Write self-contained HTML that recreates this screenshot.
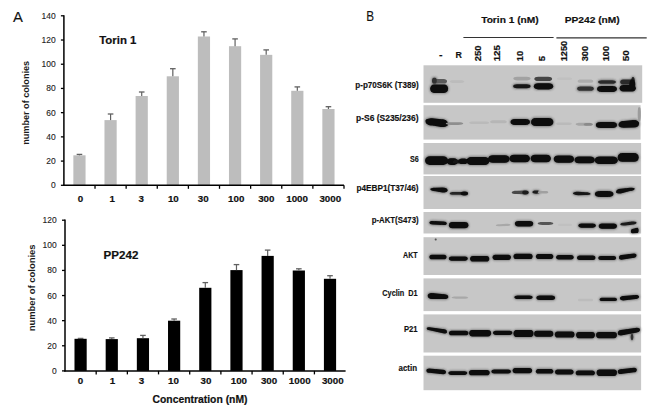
<!DOCTYPE html>
<html><head><meta charset="utf-8"><style>
html,body{margin:0;padding:0;background:#fff;width:650px;height:412px;overflow:hidden}
svg{display:block;font-family:"Liberation Sans", sans-serif}
</style></head><body>
<svg width="650" height="412" viewBox="0 0 650 412">
<defs><filter id="bl" x="-10%" y="-50%" width="120%" height="200%"><feGaussianBlur stdDeviation="0.7"/></filter><filter id="bl2" x="-10%" y="-50%" width="120%" height="200%"><feGaussianBlur stdDeviation="1.3"/></filter></defs>
<rect width="650" height="412" fill="#fff"/>
<text x="13.00" y="21.70" font-size="15.2" style="" text-anchor="start" fill="#111" stroke="#111" stroke-width="0.12" textLength="9.90" lengthAdjust="spacingAndGlyphs">A</text>
<rect x="73.36" y="155.30" width="12.20" height="30.00" fill="#bdbdbd"/>
<line x1="79.46" y1="155.30" x2="79.46" y2="154.40" stroke="#606060" stroke-width="1.2"/>
<line x1="76.66" y1="154.40" x2="82.26" y2="154.40" stroke="#606060" stroke-width="1.3"/>
<rect x="104.48" y="120.10" width="12.20" height="65.20" fill="#bdbdbd"/>
<line x1="110.58" y1="120.10" x2="110.58" y2="114.00" stroke="#606060" stroke-width="1.2"/>
<line x1="107.78" y1="114.00" x2="113.38" y2="114.00" stroke="#606060" stroke-width="1.3"/>
<rect x="135.61" y="96.00" width="12.20" height="89.30" fill="#bdbdbd"/>
<line x1="141.71" y1="96.00" x2="141.71" y2="92.00" stroke="#606060" stroke-width="1.2"/>
<line x1="138.91" y1="92.00" x2="144.51" y2="92.00" stroke="#606060" stroke-width="1.3"/>
<rect x="166.73" y="76.30" width="12.20" height="109.00" fill="#bdbdbd"/>
<line x1="172.83" y1="76.30" x2="172.83" y2="68.70" stroke="#606060" stroke-width="1.2"/>
<line x1="170.03" y1="68.70" x2="175.63" y2="68.70" stroke="#606060" stroke-width="1.3"/>
<rect x="197.85" y="36.50" width="12.20" height="148.80" fill="#bdbdbd"/>
<line x1="203.95" y1="36.50" x2="203.95" y2="31.80" stroke="#606060" stroke-width="1.2"/>
<line x1="201.15" y1="31.80" x2="206.75" y2="31.80" stroke="#606060" stroke-width="1.3"/>
<rect x="228.97" y="46.20" width="12.20" height="139.10" fill="#bdbdbd"/>
<line x1="235.07" y1="46.20" x2="235.07" y2="38.90" stroke="#606060" stroke-width="1.2"/>
<line x1="232.27" y1="38.90" x2="237.87" y2="38.90" stroke="#606060" stroke-width="1.3"/>
<rect x="260.09" y="54.85" width="12.20" height="130.45" fill="#bdbdbd"/>
<line x1="266.19" y1="54.85" x2="266.19" y2="49.90" stroke="#606060" stroke-width="1.2"/>
<line x1="263.39" y1="49.90" x2="268.99" y2="49.90" stroke="#606060" stroke-width="1.3"/>
<rect x="291.22" y="90.80" width="12.20" height="94.50" fill="#bdbdbd"/>
<line x1="297.32" y1="90.80" x2="297.32" y2="86.90" stroke="#606060" stroke-width="1.2"/>
<line x1="294.52" y1="86.90" x2="300.12" y2="86.90" stroke="#606060" stroke-width="1.3"/>
<rect x="322.34" y="109.00" width="12.20" height="76.30" fill="#bdbdbd"/>
<line x1="328.44" y1="109.00" x2="328.44" y2="106.70" stroke="#606060" stroke-width="1.2"/>
<line x1="325.64" y1="106.70" x2="331.24" y2="106.70" stroke="#606060" stroke-width="1.3"/>
<line x1="63.90" y1="15.20" x2="63.90" y2="186.00" stroke="#000" stroke-width="1.5"/>
<line x1="63.20" y1="185.30" x2="344.00" y2="185.30" stroke="#000" stroke-width="1.5"/>
<line x1="60.90" y1="185.30" x2="63.90" y2="185.30" stroke="#000" stroke-width="1.3"/>
<text x="55.60" y="188.30" font-size="8.9" style="" text-anchor="end" fill="#222" stroke="#222" stroke-width="0.12" textLength="4.70" lengthAdjust="spacingAndGlyphs">0</text>
<line x1="60.90" y1="161.09" x2="63.90" y2="161.09" stroke="#000" stroke-width="1.3"/>
<text x="55.60" y="164.09" font-size="8.9" style="" text-anchor="end" fill="#222" stroke="#222" stroke-width="0.12" textLength="9.40" lengthAdjust="spacingAndGlyphs">20</text>
<line x1="60.90" y1="136.87" x2="63.90" y2="136.87" stroke="#000" stroke-width="1.3"/>
<text x="55.60" y="139.87" font-size="8.9" style="" text-anchor="end" fill="#222" stroke="#222" stroke-width="0.12" textLength="9.40" lengthAdjust="spacingAndGlyphs">40</text>
<line x1="60.90" y1="112.66" x2="63.90" y2="112.66" stroke="#000" stroke-width="1.3"/>
<text x="55.60" y="115.66" font-size="8.9" style="" text-anchor="end" fill="#222" stroke="#222" stroke-width="0.12" textLength="9.40" lengthAdjust="spacingAndGlyphs">60</text>
<line x1="60.90" y1="88.44" x2="63.90" y2="88.44" stroke="#000" stroke-width="1.3"/>
<text x="55.60" y="91.44" font-size="8.9" style="" text-anchor="end" fill="#222" stroke="#222" stroke-width="0.12" textLength="9.40" lengthAdjust="spacingAndGlyphs">80</text>
<line x1="60.90" y1="64.23" x2="63.90" y2="64.23" stroke="#000" stroke-width="1.3"/>
<text x="55.60" y="67.23" font-size="8.9" style="" text-anchor="end" fill="#222" stroke="#222" stroke-width="0.12" textLength="14.10" lengthAdjust="spacingAndGlyphs">100</text>
<line x1="60.90" y1="40.01" x2="63.90" y2="40.01" stroke="#000" stroke-width="1.3"/>
<text x="55.60" y="43.01" font-size="8.9" style="" text-anchor="end" fill="#222" stroke="#222" stroke-width="0.12" textLength="14.10" lengthAdjust="spacingAndGlyphs">120</text>
<line x1="60.90" y1="15.80" x2="63.90" y2="15.80" stroke="#000" stroke-width="1.3"/>
<text x="55.60" y="18.80" font-size="8.9" style="" text-anchor="end" fill="#222" stroke="#222" stroke-width="0.12" textLength="14.10" lengthAdjust="spacingAndGlyphs">140</text>
<line x1="95.02" y1="185.30" x2="95.02" y2="188.80" stroke="#000" stroke-width="1.3"/>
<line x1="126.14" y1="185.30" x2="126.14" y2="188.80" stroke="#000" stroke-width="1.3"/>
<line x1="157.27" y1="185.30" x2="157.27" y2="188.80" stroke="#000" stroke-width="1.3"/>
<line x1="188.39" y1="185.30" x2="188.39" y2="188.80" stroke="#000" stroke-width="1.3"/>
<line x1="219.51" y1="185.30" x2="219.51" y2="188.80" stroke="#000" stroke-width="1.3"/>
<line x1="250.63" y1="185.30" x2="250.63" y2="188.80" stroke="#000" stroke-width="1.3"/>
<line x1="281.76" y1="185.30" x2="281.76" y2="188.80" stroke="#000" stroke-width="1.3"/>
<line x1="312.88" y1="185.30" x2="312.88" y2="188.80" stroke="#000" stroke-width="1.3"/>
<line x1="344.00" y1="185.30" x2="344.00" y2="188.80" stroke="#000" stroke-width="1.3"/>
<text x="80.55" y="201.80" font-size="9.0" style="font-weight:bold;" text-anchor="middle" fill="#111" stroke="#111" stroke-width="0.16" textLength="5.45" lengthAdjust="spacingAndGlyphs">0</text>
<text x="112.30" y="201.80" font-size="9.0" style="font-weight:bold;" text-anchor="middle" fill="#111" stroke="#111" stroke-width="0.16" textLength="5.45" lengthAdjust="spacingAndGlyphs">1</text>
<text x="141.25" y="201.80" font-size="9.0" style="font-weight:bold;" text-anchor="middle" fill="#111" stroke="#111" stroke-width="0.16" textLength="5.45" lengthAdjust="spacingAndGlyphs">3</text>
<text x="173.35" y="201.80" font-size="9.0" style="font-weight:bold;" text-anchor="middle" fill="#111" stroke="#111" stroke-width="0.16" textLength="10.90" lengthAdjust="spacingAndGlyphs">10</text>
<text x="203.30" y="201.80" font-size="9.0" style="font-weight:bold;" text-anchor="middle" fill="#111" stroke="#111" stroke-width="0.16" textLength="10.90" lengthAdjust="spacingAndGlyphs">30</text>
<text x="236.20" y="201.80" font-size="9.0" style="font-weight:bold;" text-anchor="middle" fill="#111" stroke="#111" stroke-width="0.16" textLength="16.35" lengthAdjust="spacingAndGlyphs">100</text>
<text x="266.30" y="201.80" font-size="9.0" style="font-weight:bold;" text-anchor="middle" fill="#111" stroke="#111" stroke-width="0.16" textLength="16.35" lengthAdjust="spacingAndGlyphs">300</text>
<text x="297.10" y="201.80" font-size="9.0" style="font-weight:bold;" text-anchor="middle" fill="#111" stroke="#111" stroke-width="0.16" textLength="21.80" lengthAdjust="spacingAndGlyphs">1000</text>
<text x="330.30" y="201.80" font-size="9.0" style="font-weight:bold;" text-anchor="middle" fill="#111" stroke="#111" stroke-width="0.16" textLength="21.80" lengthAdjust="spacingAndGlyphs">3000</text>
<text x="99.20" y="44.00" font-size="11.4" style="font-weight:bold;" text-anchor="start" fill="#111" stroke="#111" stroke-width="0.2" textLength="37.20" lengthAdjust="spacingAndGlyphs">Torin 1</text>
<text transform="translate(28.60,144.80) rotate(-90)" x="0" y="0" font-size="9.5" style="font-weight:bold;" fill="#1a1a1a" stroke="#1a1a1a" stroke-width="0.0" textLength="83.90" lengthAdjust="spacingAndGlyphs">number of colonies</text>
<rect x="74.49" y="338.80" width="12.20" height="32.10" fill="#000"/>
<line x1="80.59" y1="338.80" x2="80.59" y2="338.40" stroke="#606060" stroke-width="1.2"/>
<line x1="77.79" y1="338.40" x2="83.39" y2="338.40" stroke="#606060" stroke-width="1.3"/>
<rect x="105.67" y="339.10" width="12.20" height="31.80" fill="#000"/>
<line x1="111.77" y1="339.10" x2="111.77" y2="337.90" stroke="#606060" stroke-width="1.2"/>
<line x1="108.97" y1="337.90" x2="114.57" y2="337.90" stroke="#606060" stroke-width="1.3"/>
<rect x="136.84" y="338.20" width="12.20" height="32.70" fill="#000"/>
<line x1="142.94" y1="338.20" x2="142.94" y2="335.40" stroke="#606060" stroke-width="1.2"/>
<line x1="140.14" y1="335.40" x2="145.74" y2="335.40" stroke="#606060" stroke-width="1.3"/>
<rect x="168.02" y="320.70" width="12.20" height="50.20" fill="#000"/>
<line x1="174.12" y1="320.70" x2="174.12" y2="319.00" stroke="#606060" stroke-width="1.2"/>
<line x1="171.32" y1="319.00" x2="176.92" y2="319.00" stroke="#606060" stroke-width="1.3"/>
<rect x="199.20" y="287.80" width="12.20" height="83.10" fill="#000"/>
<line x1="205.30" y1="287.80" x2="205.30" y2="282.60" stroke="#606060" stroke-width="1.2"/>
<line x1="202.50" y1="282.60" x2="208.10" y2="282.60" stroke="#606060" stroke-width="1.3"/>
<rect x="230.38" y="270.10" width="12.20" height="100.80" fill="#000"/>
<line x1="236.48" y1="270.10" x2="236.48" y2="264.60" stroke="#606060" stroke-width="1.2"/>
<line x1="233.68" y1="264.60" x2="239.28" y2="264.60" stroke="#606060" stroke-width="1.3"/>
<rect x="261.56" y="255.90" width="12.20" height="115.00" fill="#000"/>
<line x1="267.66" y1="255.90" x2="267.66" y2="250.10" stroke="#606060" stroke-width="1.2"/>
<line x1="264.86" y1="250.10" x2="270.46" y2="250.10" stroke="#606060" stroke-width="1.3"/>
<rect x="292.73" y="270.50" width="12.20" height="100.40" fill="#000"/>
<line x1="298.83" y1="270.50" x2="298.83" y2="268.80" stroke="#606060" stroke-width="1.2"/>
<line x1="296.03" y1="268.80" x2="301.63" y2="268.80" stroke="#606060" stroke-width="1.3"/>
<rect x="323.91" y="278.80" width="12.20" height="92.10" fill="#000"/>
<line x1="330.01" y1="278.80" x2="330.01" y2="275.70" stroke="#606060" stroke-width="1.2"/>
<line x1="327.21" y1="275.70" x2="332.81" y2="275.70" stroke="#606060" stroke-width="1.3"/>
<line x1="65.00" y1="219.60" x2="65.00" y2="371.60" stroke="#000" stroke-width="1.5"/>
<line x1="64.30" y1="370.90" x2="345.60" y2="370.90" stroke="#000" stroke-width="1.5"/>
<line x1="62.00" y1="370.90" x2="65.00" y2="370.90" stroke="#000" stroke-width="1.3"/>
<text x="56.60" y="373.90" font-size="8.9" style="" text-anchor="end" fill="#222" stroke="#222" stroke-width="0.12" textLength="4.70" lengthAdjust="spacingAndGlyphs">0</text>
<line x1="62.00" y1="345.78" x2="65.00" y2="345.78" stroke="#000" stroke-width="1.3"/>
<text x="56.60" y="348.78" font-size="8.9" style="" text-anchor="end" fill="#222" stroke="#222" stroke-width="0.12" textLength="9.40" lengthAdjust="spacingAndGlyphs">20</text>
<line x1="62.00" y1="320.67" x2="65.00" y2="320.67" stroke="#000" stroke-width="1.3"/>
<text x="56.60" y="323.67" font-size="8.9" style="" text-anchor="end" fill="#222" stroke="#222" stroke-width="0.12" textLength="9.40" lengthAdjust="spacingAndGlyphs">40</text>
<line x1="62.00" y1="295.55" x2="65.00" y2="295.55" stroke="#000" stroke-width="1.3"/>
<text x="56.60" y="298.55" font-size="8.9" style="" text-anchor="end" fill="#222" stroke="#222" stroke-width="0.12" textLength="9.40" lengthAdjust="spacingAndGlyphs">60</text>
<line x1="62.00" y1="270.43" x2="65.00" y2="270.43" stroke="#000" stroke-width="1.3"/>
<text x="56.60" y="273.43" font-size="8.9" style="" text-anchor="end" fill="#222" stroke="#222" stroke-width="0.12" textLength="9.40" lengthAdjust="spacingAndGlyphs">80</text>
<line x1="62.00" y1="245.32" x2="65.00" y2="245.32" stroke="#000" stroke-width="1.3"/>
<text x="56.60" y="248.32" font-size="8.9" style="" text-anchor="end" fill="#222" stroke="#222" stroke-width="0.12" textLength="14.10" lengthAdjust="spacingAndGlyphs">100</text>
<line x1="62.00" y1="220.20" x2="65.00" y2="220.20" stroke="#000" stroke-width="1.3"/>
<text x="56.60" y="223.20" font-size="8.9" style="" text-anchor="end" fill="#222" stroke="#222" stroke-width="0.12" textLength="14.10" lengthAdjust="spacingAndGlyphs">120</text>
<line x1="96.18" y1="370.90" x2="96.18" y2="374.40" stroke="#000" stroke-width="1.3"/>
<line x1="127.36" y1="370.90" x2="127.36" y2="374.40" stroke="#000" stroke-width="1.3"/>
<line x1="158.53" y1="370.90" x2="158.53" y2="374.40" stroke="#000" stroke-width="1.3"/>
<line x1="189.71" y1="370.90" x2="189.71" y2="374.40" stroke="#000" stroke-width="1.3"/>
<line x1="220.89" y1="370.90" x2="220.89" y2="374.40" stroke="#000" stroke-width="1.3"/>
<line x1="252.07" y1="370.90" x2="252.07" y2="374.40" stroke="#000" stroke-width="1.3"/>
<line x1="283.24" y1="370.90" x2="283.24" y2="374.40" stroke="#000" stroke-width="1.3"/>
<line x1="314.42" y1="370.90" x2="314.42" y2="374.40" stroke="#000" stroke-width="1.3"/>
<text x="80.55" y="383.80" font-size="9.0" style="font-weight:bold;" text-anchor="middle" fill="#111" stroke="#111" stroke-width="0.16" textLength="5.45" lengthAdjust="spacingAndGlyphs">0</text>
<text x="112.50" y="383.80" font-size="9.0" style="font-weight:bold;" text-anchor="middle" fill="#111" stroke="#111" stroke-width="0.16" textLength="5.45" lengthAdjust="spacingAndGlyphs">1</text>
<text x="141.50" y="383.80" font-size="9.0" style="font-weight:bold;" text-anchor="middle" fill="#111" stroke="#111" stroke-width="0.16" textLength="5.45" lengthAdjust="spacingAndGlyphs">3</text>
<text x="173.40" y="383.80" font-size="9.0" style="font-weight:bold;" text-anchor="middle" fill="#111" stroke="#111" stroke-width="0.16" textLength="10.90" lengthAdjust="spacingAndGlyphs">10</text>
<text x="206.00" y="383.80" font-size="9.0" style="font-weight:bold;" text-anchor="middle" fill="#111" stroke="#111" stroke-width="0.16" textLength="10.90" lengthAdjust="spacingAndGlyphs">30</text>
<text x="238.90" y="383.80" font-size="9.0" style="font-weight:bold;" text-anchor="middle" fill="#111" stroke="#111" stroke-width="0.16" textLength="16.35" lengthAdjust="spacingAndGlyphs">100</text>
<text x="269.10" y="383.80" font-size="9.0" style="font-weight:bold;" text-anchor="middle" fill="#111" stroke="#111" stroke-width="0.16" textLength="16.35" lengthAdjust="spacingAndGlyphs">300</text>
<text x="299.70" y="383.80" font-size="9.0" style="font-weight:bold;" text-anchor="middle" fill="#111" stroke="#111" stroke-width="0.16" textLength="21.80" lengthAdjust="spacingAndGlyphs">1000</text>
<text x="332.80" y="383.80" font-size="9.0" style="font-weight:bold;" text-anchor="middle" fill="#111" stroke="#111" stroke-width="0.16" textLength="21.80" lengthAdjust="spacingAndGlyphs">3000</text>
<text x="103.60" y="259.20" font-size="11.4" style="font-weight:bold;" text-anchor="start" fill="#111" stroke="#111" stroke-width="0.2" textLength="34.80" lengthAdjust="spacingAndGlyphs">PP242</text>
<text transform="translate(35.20,331.35) rotate(-90)" x="0" y="0" font-size="9.4" style="font-weight:bold;" fill="#1a1a1a" stroke="#1a1a1a" stroke-width="0.0" textLength="86.90" lengthAdjust="spacingAndGlyphs">number of colonies</text>
<text x="152.50" y="402.80" font-size="11.4" style="font-weight:bold;" text-anchor="start" fill="#111" stroke="#111" stroke-width="0.2" textLength="95.00" lengthAdjust="spacingAndGlyphs">Concentration (nM)</text>
<text x="366.30" y="21.10" font-size="14.6" style="" text-anchor="start" fill="#111" stroke="#111" stroke-width="0.12" textLength="7.80" lengthAdjust="spacingAndGlyphs">B</text>
<text x="481.20" y="22.60" font-size="9.3" style="font-weight:bold;" text-anchor="start" fill="#111" stroke="#111" stroke-width="0.16" textLength="57.50" lengthAdjust="spacingAndGlyphs">Torin 1 (nM)</text>
<text x="564.70" y="22.60" font-size="9.3" style="font-weight:bold;" text-anchor="start" fill="#111" stroke="#111" stroke-width="0.16" textLength="55.00" lengthAdjust="spacingAndGlyphs">PP242 (nM)</text>
<line x1="463.40" y1="37.50" x2="553.60" y2="37.50" stroke="#333" stroke-width="1.2"/>
<line x1="556.40" y1="37.80" x2="646.70" y2="37.80" stroke="#333" stroke-width="1.2"/>
<text x="438.90" y="58.00" font-size="9.3" style="font-weight:bold;" text-anchor="start" fill="#111" stroke="#111" stroke-width="0.16" textLength="3.60" lengthAdjust="spacingAndGlyphs">-</text>
<text x="455.60" y="58.20" font-size="9.3" style="font-weight:bold;" text-anchor="start" fill="#111" stroke="#111" stroke-width="0.16" textLength="6.40" lengthAdjust="spacingAndGlyphs">R</text>
<text transform="translate(480.60,61.30) rotate(-90)" x="0" y="0" font-size="8.6" style="font-weight:bold;" fill="#111" stroke="#111" stroke-width="0.2" textLength="15.80" lengthAdjust="spacingAndGlyphs">250</text>
<text transform="translate(500.00,61.30) rotate(-90)" x="0" y="0" font-size="8.6" style="font-weight:bold;" fill="#111" stroke="#111" stroke-width="0.2" textLength="16.20" lengthAdjust="spacingAndGlyphs">125</text>
<text transform="translate(523.40,61.30) rotate(-90)" x="0" y="0" font-size="8.6" style="font-weight:bold;" fill="#111" stroke="#111" stroke-width="0.2" textLength="10.50" lengthAdjust="spacingAndGlyphs">10</text>
<text transform="translate(545.30,61.30) rotate(-90)" x="0" y="0" font-size="8.6" style="font-weight:bold;" fill="#111" stroke="#111" stroke-width="0.2" textLength="5.30" lengthAdjust="spacingAndGlyphs">5</text>
<text transform="translate(567.40,61.30) rotate(-90)" x="0" y="0" font-size="8.6" style="font-weight:bold;" fill="#111" stroke="#111" stroke-width="0.2" textLength="20.50" lengthAdjust="spacingAndGlyphs">1250</text>
<text transform="translate(588.30,61.30) rotate(-90)" x="0" y="0" font-size="8.6" style="font-weight:bold;" fill="#111" stroke="#111" stroke-width="0.2" textLength="15.40" lengthAdjust="spacingAndGlyphs">300</text>
<text transform="translate(609.40,61.30) rotate(-90)" x="0" y="0" font-size="8.6" style="font-weight:bold;" fill="#111" stroke="#111" stroke-width="0.2" textLength="15.40" lengthAdjust="spacingAndGlyphs">100</text>
<text transform="translate(628.80,61.30) rotate(-90)" x="0" y="0" font-size="8.6" style="font-weight:bold;" fill="#111" stroke="#111" stroke-width="0.2" textLength="11.00" lengthAdjust="spacingAndGlyphs">50</text>
<text x="355.30" y="87.60" font-size="8.6" style="font-weight:bold;" text-anchor="start" fill="#111" stroke="#111" stroke-width="0.16" textLength="63.30" lengthAdjust="spacingAndGlyphs">p-p70S6K (T389)</text>
<text x="356.00" y="120.80" font-size="8.6" style="font-weight:bold;" text-anchor="start" fill="#111" stroke="#111" stroke-width="0.16" textLength="62.60" lengthAdjust="spacingAndGlyphs">p-S6 (S235/236)</text>
<text x="409.90" y="162.10" font-size="8.6" style="font-weight:bold;" text-anchor="start" fill="#111" stroke="#111" stroke-width="0.16" textLength="8.70" lengthAdjust="spacingAndGlyphs">S6</text>
<text x="356.40" y="190.70" font-size="8.6" style="font-weight:bold;" text-anchor="start" fill="#111" stroke="#111" stroke-width="0.16" textLength="62.20" lengthAdjust="spacingAndGlyphs">p4EBP1(T37/46)</text>
<text x="371.70" y="222.80" font-size="8.6" style="font-weight:bold;" text-anchor="start" fill="#111" stroke="#111" stroke-width="0.16" textLength="46.90" lengthAdjust="spacingAndGlyphs">p-AKT(S473)</text>
<text x="403.00" y="257.60" font-size="8.6" style="font-weight:bold;" text-anchor="start" fill="#111" stroke="#111" stroke-width="0.16" textLength="14.60" lengthAdjust="spacingAndGlyphs">AKT</text>
<text x="382.30" y="296.40" font-size="8.6" style="font-weight:bold;" text-anchor="start" fill="#111" stroke="#111" stroke-width="0.16" textLength="35.30" lengthAdjust="spacingAndGlyphs">Cyclin&#160; D1</text>
<text x="404.00" y="331.50" font-size="8.6" style="font-weight:bold;" text-anchor="start" fill="#111" stroke="#111" stroke-width="0.16" textLength="13.60" lengthAdjust="spacingAndGlyphs">P21</text>
<text x="398.50" y="371.00" font-size="8.6" style="font-weight:bold;" text-anchor="start" fill="#111" stroke="#111" stroke-width="0.16" textLength="18.50" lengthAdjust="spacingAndGlyphs">actin</text>
<g>
<rect x="423.50" y="65.30" width="218.70" height="37.50" fill="#c7c7c7"/>
<rect x="423.50" y="105.20" width="217.10" height="34.40" fill="#c7c7c7"/>
<rect x="423.50" y="143.00" width="217.60" height="31.40" fill="#c7c7c7"/>
<rect x="423.50" y="176.00" width="217.60" height="33.00" fill="#c7c7c7"/>
<rect x="423.50" y="212.00" width="217.60" height="21.50" fill="#c7c7c7"/>
<rect x="423.50" y="237.20" width="217.60" height="37.80" fill="#c7c7c7"/>
<rect x="423.50" y="278.40" width="217.60" height="32.70" fill="#c7c7c7"/>
<rect x="423.50" y="314.40" width="217.60" height="38.10" fill="#c7c7c7"/>
<rect x="423.50" y="355.70" width="217.60" height="34.50" fill="#c7c7c7"/>
</g>
<g filter="url(#bl2)" opacity="0.55">
<path d="M431.40,80.70 C431.40,78.54 432.36,77.10 433.80,77.10 L435.00,77.10 C436.44,77.10 437.40,78.54 437.40,80.70 C437.40,82.86 436.44,84.30 435.00,84.30 L433.80,84.30 C432.36,84.30 431.40,82.86 431.40,80.70 Z" fill="#333"/>
<path d="M429.60,88.75 C429.60,85.84 431.28,83.90 433.80,83.90 L444.50,83.90 C447.02,83.90 448.70,85.84 448.70,88.75 C448.70,91.66 447.02,93.60 444.50,93.60 L433.80,93.60 C431.28,93.60 429.60,91.66 429.60,88.75 Z" fill="#333"/>
<path d="M512.50,86.30 C512.50,84.68 514.15,83.60 516.61,83.60 L527.09,83.60 C529.55,83.60 531.20,84.68 531.20,86.30 C531.20,87.92 529.55,89.00 527.09,89.00 L516.61,89.00 C514.15,89.00 512.50,87.92 512.50,86.30 Z" fill="#333"/>
<path d="M533.20,86.35 C533.20,84.10 535.01,82.60 537.73,82.60 L549.27,82.60 C551.99,82.60 553.80,84.10 553.80,86.35 C553.80,88.60 551.99,90.10 549.27,90.10 L537.73,90.10 C535.01,90.10 533.20,88.60 533.20,86.35 Z" fill="#333"/>
<path d="M576.50,88.70 C576.50,87.02 578.08,85.90 580.44,85.90 L590.46,85.90 C592.82,85.90 594.40,87.02 594.40,88.70 C594.40,90.38 592.82,91.50 590.46,91.50 L580.44,91.50 C578.08,91.50 576.50,90.38 576.50,88.70 Z" fill="#333"/>
<path d="M597.50,82.00 C597.50,80.50 599.17,79.50 601.68,79.50 L612.32,79.50 C614.83,79.50 616.50,80.50 616.50,82.00 C616.50,83.50 614.83,84.50 612.32,84.50 L601.68,84.50 C599.17,84.50 597.50,83.50 597.50,82.00 Z" fill="#333"/>
<path d="M596.40,89.00 C596.40,86.84 598.27,85.40 601.06,85.40 L612.94,85.40 C615.73,85.40 617.60,86.84 617.60,89.00 C617.60,91.16 615.73,92.60 612.94,92.60 L601.06,92.60 C598.27,92.60 596.40,91.16 596.40,89.00 Z" fill="#333"/>
<path d="M619.60,82.00 C619.60,80.14 620.86,78.90 622.75,78.90 L630.75,78.90 C632.64,78.90 633.90,80.14 633.90,82.00 C633.90,83.86 632.64,85.10 630.75,85.10 L622.75,85.10 C620.86,85.10 619.60,83.86 619.60,82.00 Z" fill="#333"/>
<path d="M630.60,81.60 C630.60,78.42 631.56,76.30 633.00,76.30 L633.00,76.30 C634.44,76.30 635.40,78.42 635.40,81.60 C635.40,84.78 634.44,86.90 633.00,86.90 L633.00,86.90 C631.56,86.90 630.60,84.78 630.60,81.60 Z" fill="#333"/>
<path d="M619.00,88.20 C619.00,85.86 620.53,84.30 622.83,84.30 L632.57,84.30 C634.87,84.30 636.40,85.86 636.40,88.20 C636.40,90.54 634.87,92.10 632.57,92.10 L622.83,92.10 C620.53,92.10 619.00,90.54 619.00,88.20 Z" fill="#333"/>
<path d="M628.60,84.75 C628.60,81.06 629.77,78.60 631.52,78.60 L632.98,78.60 C634.73,78.60 635.90,81.06 635.90,84.75 C635.90,88.44 634.73,90.90 632.98,90.90 L631.52,90.90 C629.77,90.90 628.60,88.44 628.60,84.75 Z" fill="#333"/>
<path d="M424.90,120.95 C424.90,118.95 427.76,117.61 432.04,117.61 L441.56,118.69 C445.84,118.69 448.70,120.87 448.70,124.15 C448.70,126.27 445.84,127.69 441.56,127.69 L432.04,126.21 C427.76,126.21 424.90,124.11 424.90,120.95 Z" fill="#333"/>
<path d="M509.90,122.00 C509.90,119.84 511.72,118.40 514.45,118.40 L526.05,118.40 C528.78,118.40 530.60,119.84 530.60,122.00 C530.60,124.16 528.78,125.60 526.05,125.60 L514.45,125.60 C511.72,125.60 509.90,124.16 509.90,122.00 Z" fill="#333"/>
<path d="M530.40,122.00 C530.40,119.18 532.48,117.30 535.59,117.30 L548.81,117.30 C551.92,117.30 554.00,119.18 554.00,122.00 C554.00,124.82 551.92,126.70 548.81,126.70 L535.59,126.70 C532.48,126.70 530.40,124.82 530.40,122.00 Z" fill="#333"/>
<path d="M595.20,124.95 C595.20,122.76 597.18,121.30 600.15,121.30 L612.75,121.30 C615.72,121.30 617.70,122.76 617.70,124.95 C617.70,127.14 615.72,128.60 612.75,128.60 L600.15,128.60 C597.18,128.60 595.20,127.14 595.20,124.95 Z" fill="#333"/>
<path d="M617.90,124.75 C617.90,122.12 620.08,120.38 623.35,120.38 L634.25,119.32 C637.52,119.32 639.70,120.97 639.70,123.45 C639.70,126.31 637.52,128.22 634.25,128.22 L623.35,128.47 C620.08,128.47 617.90,126.98 617.90,124.75 Z" fill="#333"/>
<path d="M424.50,160.55 C424.50,157.52 426.62,155.50 429.80,155.50 L443.30,155.50 C446.48,155.50 448.60,157.52 448.60,160.55 C448.60,163.58 446.48,165.60 443.30,165.60 L429.80,165.60 C426.62,165.60 424.50,163.58 424.50,160.55 Z" fill="#333"/>
<path d="M466.00,160.90 C466.00,158.08 468.10,156.20 471.26,156.20 L484.64,156.20 C487.80,156.20 489.90,158.08 489.90,160.90 C489.90,163.72 487.80,165.60 484.64,165.60 L471.26,165.60 C468.10,165.60 466.00,163.72 466.00,160.90 Z" fill="#333"/>
<path d="M487.50,159.00 C487.50,156.30 489.50,154.50 492.49,154.50 L505.21,154.50 C508.20,154.50 510.20,156.30 510.20,159.00 C510.20,161.70 508.20,163.50 505.21,163.50 L492.49,163.50 C489.50,163.50 487.50,161.70 487.50,159.00 Z" fill="#333"/>
<path d="M508.90,158.55 C508.90,155.88 510.80,154.10 513.65,154.10 L525.75,154.10 C528.60,154.10 530.50,155.88 530.50,158.55 C530.50,161.22 528.60,163.00 525.75,163.00 L513.65,163.00 C510.80,163.00 508.90,161.22 508.90,158.55 Z" fill="#333"/>
<path d="M530.10,158.55 C530.10,155.88 531.98,154.10 534.81,154.10 L546.79,154.10 C549.62,154.10 551.50,155.88 551.50,158.55 C551.50,161.22 549.62,163.00 546.79,163.00 L534.81,163.00 C531.98,163.00 530.10,161.22 530.10,158.55 Z" fill="#333"/>
<path d="M553.10,159.10 C553.10,156.46 555.00,154.70 557.85,154.70 L569.95,154.70 C572.80,154.70 574.70,156.46 574.70,159.10 C574.70,161.74 572.80,163.50 569.95,163.50 L557.85,163.50 C555.00,163.50 553.10,161.74 553.10,159.10 Z" fill="#333"/>
<path d="M573.90,159.90 C573.90,157.50 575.79,155.90 578.63,155.90 L590.67,155.90 C593.51,155.90 595.40,157.50 595.40,159.90 C595.40,162.30 593.51,163.90 590.67,163.90 L578.63,163.90 C575.79,163.90 573.90,162.30 573.90,159.90 Z" fill="#333"/>
<path d="M594.10,160.35 C594.10,157.68 596.24,155.90 599.45,155.90 L613.05,155.90 C616.26,155.90 618.40,157.68 618.40,160.35 C618.40,163.02 616.26,164.80 613.05,164.80 L599.45,164.80 C596.24,164.80 594.10,163.02 594.10,160.35 Z" fill="#333"/>
<path d="M617.10,157.45 C617.10,154.42 619.05,152.40 621.98,152.40 L634.42,152.40 C637.35,152.40 639.30,154.42 639.30,157.45 C639.30,160.48 637.35,162.50 634.42,162.50 L621.98,162.50 C619.05,162.50 617.10,160.48 617.10,157.45 Z" fill="#333"/>
<path d="M446.30,161.60 C446.30,159.20 447.99,157.60 450.54,157.60 L454.16,157.60 C456.71,157.60 458.40,159.20 458.40,161.60 C458.40,164.00 456.71,165.60 454.16,165.60 L450.54,165.60 C447.99,165.60 446.30,164.00 446.30,161.60 Z" fill="#333"/>
<path d="M452.10,161.60 C452.10,160.04 453.52,159.00 455.64,159.00 L460.36,159.00 C462.48,159.00 463.90,160.04 463.90,161.60 C463.90,163.16 462.48,164.20 460.36,164.20 L455.64,164.20 C453.52,164.20 452.10,163.16 452.10,161.60 Z" fill="#333"/>
<path d="M458.10,161.25 C458.10,159.12 459.53,157.70 461.67,157.70 L464.73,157.70 C466.87,157.70 468.30,159.12 468.30,161.25 C468.30,163.38 466.87,164.80 464.73,164.80 L461.67,164.80 C459.53,164.80 458.10,163.38 458.10,161.25 Z" fill="#333"/>
<path d="M429.70,189.10 C429.70,187.83 431.93,186.98 435.28,186.98 L442.72,186.82 C446.07,186.82 448.30,188.25 448.30,190.40 C448.30,192.08 446.07,193.20 442.72,193.20 L435.28,192.00 C431.93,192.00 429.70,190.84 429.70,189.10 Z" fill="#333"/>
<path d="M449.10,193.45 C449.10,192.22 450.88,191.40 453.54,191.40 L459.46,191.40 C462.12,191.40 463.90,192.22 463.90,193.45 C463.90,194.68 462.12,195.50 459.46,195.50 L453.54,195.50 C450.88,195.50 449.10,194.68 449.10,193.45 Z" fill="#333"/>
<path d="M460.10,193.40 C460.10,191.78 461.48,190.70 463.54,190.70 L465.26,190.70 C467.32,190.70 468.70,191.78 468.70,193.40 C468.70,195.02 467.32,196.10 465.26,196.10 L463.54,196.10 C461.48,196.10 460.10,195.02 460.10,193.40 Z" fill="#333"/>
<path d="M521.60,192.50 C521.60,190.94 522.82,189.90 524.64,189.90 L526.16,189.90 C527.98,189.90 529.20,190.94 529.20,192.50 C529.20,194.06 527.98,195.10 526.16,195.10 L524.64,195.10 C522.82,195.10 521.60,194.06 521.60,192.50 Z" fill="#333"/>
<path d="M531.80,192.10 C531.80,190.66 533.38,189.70 535.76,189.70 L536.64,189.70 C539.02,189.70 540.60,190.66 540.60,192.10 C540.60,193.54 539.02,194.50 536.64,194.50 L535.76,194.50 C533.38,194.50 531.80,193.54 531.80,192.10 Z" fill="#333"/>
<path d="M572.40,193.30 C572.40,191.99 574.64,191.12 578.01,191.12 L585.49,191.68 C588.86,191.68 591.10,192.57 591.10,193.90 C591.10,195.02 588.86,195.76 585.49,195.76 L578.01,195.84 C574.64,195.84 572.40,194.82 572.40,193.30 Z" fill="#333"/>
<path d="M594.20,193.95 C594.20,191.70 596.59,190.20 600.17,190.20 L608.13,190.20 C611.71,190.20 614.10,191.70 614.10,193.95 C614.10,196.20 611.71,197.70 608.13,197.70 L600.17,197.70 C596.59,197.70 594.20,196.20 594.20,193.95 Z" fill="#333"/>
<path d="M615.40,191.95 C615.40,189.56 617.39,187.97 620.38,187.97 L630.32,187.12 C633.31,187.12 635.30,187.68 635.30,188.50 C635.30,190.36 633.31,191.60 630.32,191.60 L620.38,194.20 C617.39,194.20 615.40,193.30 615.40,191.95 Z" fill="#333"/>
<path d="M428.80,222.60 C428.80,221.19 430.14,220.24 432.15,220.24 L444.05,220.76 C446.06,220.76 447.40,221.81 447.40,223.40 C447.40,224.81 446.06,225.76 444.05,225.76 L432.15,225.24 C430.14,225.24 428.80,224.19 428.80,222.60 Z" fill="#333"/>
<path d="M448.30,225.15 C448.30,222.90 449.79,221.40 452.03,221.40 L465.27,221.40 C467.51,221.40 469.00,222.90 469.00,225.15 C469.00,227.40 467.51,228.90 465.27,228.90 L452.03,228.90 C449.79,228.90 448.30,227.40 448.30,225.15 Z" fill="#333"/>
<path d="M514.30,223.75 C514.30,221.74 515.70,220.40 517.81,220.40 L530.29,220.40 C532.40,220.40 533.80,221.74 533.80,223.75 C533.80,225.76 532.40,227.10 530.29,227.10 L517.81,227.10 C515.70,227.10 514.30,225.76 514.30,223.75 Z" fill="#333"/>
<path d="M577.80,225.60 C577.80,223.86 579.14,222.70 581.15,222.70 L593.05,222.70 C595.06,222.70 596.40,223.86 596.40,225.60 C596.40,227.34 595.06,228.50 593.05,228.50 L581.15,228.50 C579.14,228.50 577.80,227.34 577.80,225.60 Z" fill="#333"/>
<path d="M598.10,226.05 C598.10,224.04 599.50,222.70 601.61,222.70 L614.09,222.70 C616.20,222.70 617.60,224.04 617.60,226.05 C617.60,228.06 616.20,229.40 614.09,229.40 L601.61,229.40 C599.50,229.40 598.10,228.06 598.10,226.05 Z" fill="#333"/>
<path d="M619.70,224.60 C619.70,222.86 621.79,221.70 624.92,221.70 L631.88,220.90 C635.01,220.90 637.10,221.54 637.10,222.50 C637.10,224.22 635.01,225.36 631.88,225.36 L624.92,226.24 C621.79,226.24 619.70,225.58 619.70,224.60 Z" fill="#333"/>
<path d="M630.30,231.35 C630.30,229.49 630.94,228.26 631.90,228.26 L637.60,227.04 C638.56,227.04 639.20,228.31 639.20,230.20 C639.20,232.34 638.56,233.77 637.60,233.77 L631.90,234.03 C630.94,234.03 630.30,232.96 630.30,231.35 Z" fill="#333"/>
<path d="M428.80,257.00 C428.80,255.20 429.82,254.00 431.36,254.00 L444.54,254.00 C446.08,254.00 447.10,255.20 447.10,257.00 C447.10,258.80 446.08,260.00 444.54,260.00 L431.36,260.00 C429.82,260.00 428.80,258.80 428.80,257.00 Z" fill="#333"/>
<path d="M448.30,258.55 C448.30,256.84 449.42,255.70 451.10,255.70 L465.50,255.70 C467.18,255.70 468.30,256.84 468.30,258.55 C468.30,260.26 467.18,261.40 465.50,261.40 L451.10,261.40 C449.42,261.40 448.30,260.26 448.30,258.55 Z" fill="#333"/>
<path d="M469.50,258.75 C469.50,256.62 470.64,255.20 472.36,255.20 L487.04,255.20 C488.76,255.20 489.90,256.62 489.90,258.75 C489.90,260.88 488.76,262.30 487.04,262.30 L472.36,262.30 C470.64,262.30 469.50,260.88 469.50,258.75 Z" fill="#333"/>
<path d="M492.00,257.30 C492.00,255.32 493.09,254.00 494.73,254.00 L508.77,254.00 C510.41,254.00 511.50,255.32 511.50,257.30 C511.50,259.28 510.41,260.60 508.77,260.60 L494.73,260.60 C493.09,260.60 492.00,259.28 492.00,257.30 Z" fill="#333"/>
<path d="M512.90,256.40 C512.90,254.42 514.04,253.10 515.74,253.10 L530.36,253.10 C532.06,253.10 533.20,254.42 533.20,256.40 C533.20,258.38 532.06,259.70 530.36,259.70 L515.74,259.70 C514.04,259.70 512.90,258.38 512.90,256.40 Z" fill="#333"/>
<path d="M535.30,256.55 C535.30,254.66 536.34,253.40 537.90,253.40 L551.30,253.40 C552.86,253.40 553.90,254.66 553.90,256.55 C553.90,258.44 552.86,259.70 551.30,259.70 L537.90,259.70 C536.34,259.70 535.30,258.44 535.30,256.55 Z" fill="#333"/>
<path d="M555.60,257.25 C555.60,255.48 556.64,254.30 558.20,254.30 L571.60,254.30 C573.16,254.30 574.20,255.48 574.20,257.25 C574.20,259.02 573.16,260.20 571.60,260.20 L558.20,260.20 C556.64,260.20 555.60,259.02 555.60,257.25 Z" fill="#333"/>
<path d="M576.50,257.65 C576.50,255.88 577.59,254.70 579.23,254.70 L593.27,254.70 C594.91,254.70 596.00,255.88 596.00,257.65 C596.00,259.42 594.91,260.60 593.27,260.60 L579.23,260.60 C577.59,260.60 576.50,259.42 576.50,257.65 Z" fill="#333"/>
<path d="M597.70,257.90 C597.70,256.28 598.76,255.20 600.36,255.20 L614.04,255.20 C615.64,255.20 616.70,256.28 616.70,257.90 C616.70,259.52 615.64,260.60 614.04,260.60 L600.36,260.60 C598.76,260.60 597.70,259.52 597.70,257.90 Z" fill="#333"/>
<path d="M618.40,257.75 C618.40,255.73 619.45,254.38 621.02,254.38 L634.48,252.72 C636.05,252.72 637.10,253.69 637.10,255.15 C637.10,257.04 636.05,258.31 634.48,258.31 L621.02,260.39 C619.45,260.39 618.40,259.34 618.40,257.75 Z" fill="#333"/>
<path d="M427.10,295.70 C427.10,293.67 428.84,292.32 431.46,292.32 L444.54,293.58 C447.16,293.58 448.90,294.91 448.90,296.90 C448.90,298.60 447.16,299.74 444.54,299.74 L431.46,299.56 C428.84,299.56 427.10,298.02 427.10,295.70 Z" fill="#333"/>
<path d="M513.80,297.20 C513.80,295.70 515.20,294.70 517.29,294.70 L529.71,294.70 C531.80,294.70 533.20,295.70 533.20,297.20 C533.20,298.70 531.80,299.70 529.71,299.70 L517.29,299.70 C515.20,299.70 513.80,298.70 513.80,297.20 Z" fill="#333"/>
<path d="M535.80,297.65 C535.80,295.88 537.23,294.70 539.38,294.70 L552.12,294.70 C554.27,294.70 555.70,295.88 555.70,297.65 C555.70,299.42 554.27,300.60 552.12,300.60 L539.38,300.60 C537.23,300.60 535.80,299.42 535.80,297.65 Z" fill="#333"/>
<path d="M599.00,299.40 C599.00,297.96 600.34,297.00 602.35,297.00 L614.25,297.00 C616.26,297.00 617.60,297.96 617.60,299.40 C617.60,300.84 616.26,301.80 614.25,301.80 L602.35,301.80 C600.34,301.80 599.00,300.84 599.00,299.40 Z" fill="#333"/>
<path d="M619.30,298.60 C619.30,296.67 620.77,295.38 622.97,295.38 L636.03,294.22 C638.23,294.22 639.70,295.17 639.70,296.60 C639.70,298.46 638.23,299.70 636.03,299.70 L622.97,301.10 C620.77,301.10 619.30,300.10 619.30,298.60 Z" fill="#333"/>
<path d="M426.10,328.30 C426.10,327.33 427.30,326.68 429.11,326.68 L444.59,328.62 C446.40,328.62 447.60,329.95 447.60,331.95 C447.60,333.33 446.40,334.26 444.59,334.26 L429.11,330.94 C427.30,330.94 426.10,329.89 426.10,328.30 Z" fill="#333"/>
<path d="M448.30,333.00 C448.30,331.20 449.46,330.00 451.20,330.00 L466.10,330.00 C467.84,330.00 469.00,331.20 469.00,333.00 C469.00,334.80 467.84,336.00 466.10,336.00 L451.20,336.00 C449.46,336.00 448.30,334.80 448.30,333.00 Z" fill="#333"/>
<path d="M468.60,333.25 C468.60,330.94 469.89,329.40 471.83,329.40 L488.47,329.40 C490.41,329.40 491.70,330.94 491.70,333.25 C491.70,335.56 490.41,337.10 488.47,337.10 L471.83,337.10 C469.89,337.10 468.60,335.56 468.60,333.25 Z" fill="#333"/>
<path d="M492.50,332.85 C492.50,331.14 493.64,330.00 495.36,330.00 L510.04,330.00 C511.76,330.00 512.90,331.14 512.90,332.85 C512.90,334.56 511.76,335.70 510.04,335.70 L495.36,335.70 C493.64,335.70 492.50,334.56 492.50,332.85 Z" fill="#333"/>
<path d="M512.90,333.60 C512.90,331.08 514.09,329.40 515.87,329.40 L531.13,329.40 C532.91,329.40 534.10,331.08 534.10,333.60 C534.10,336.12 532.91,337.80 531.13,337.80 L515.87,337.80 C514.09,337.80 512.90,336.12 512.90,333.60 Z" fill="#333"/>
<path d="M533.50,333.70 C533.50,331.48 534.64,330.00 536.36,330.00 L551.04,330.00 C552.76,330.00 553.90,331.48 553.90,333.70 C553.90,335.92 552.76,337.40 551.04,337.40 L536.36,337.40 C534.64,337.40 533.50,335.92 533.50,333.70 Z" fill="#333"/>
<path d="M554.20,334.50 C554.20,332.22 555.37,330.70 557.13,330.70 L572.17,330.70 C573.93,330.70 575.10,332.22 575.10,334.50 C575.10,336.78 573.93,338.30 572.17,338.30 L557.13,338.30 C555.37,338.30 554.20,336.78 554.20,334.50 Z" fill="#333"/>
<path d="M575.50,335.05 C575.50,332.74 576.62,331.20 578.30,331.20 L592.70,331.20 C594.38,331.20 595.50,332.74 595.50,335.05 C595.50,337.36 594.38,338.90 592.70,338.90 L578.30,338.90 C576.62,338.90 575.50,337.36 575.50,335.05 Z" fill="#333"/>
<path d="M595.40,335.05 C595.40,332.74 596.64,331.20 598.51,331.20 L614.49,331.20 C616.36,331.20 617.60,332.74 617.60,335.05 C617.60,337.36 616.36,338.90 614.49,338.90 L598.51,338.90 C596.64,338.90 595.40,337.36 595.40,335.05 Z" fill="#333"/>
<path d="M617.20,333.25 C617.20,330.87 618.51,329.28 620.48,329.28 L637.32,327.12 C639.29,327.12 640.60,328.11 640.60,329.60 C640.60,331.70 639.29,333.10 637.32,333.10 L620.48,336.20 C618.51,336.20 617.20,335.02 617.20,333.25 Z" fill="#333"/>
<path d="M630.10,337.00 C630.10,334.66 630.86,333.10 632.00,333.10 L632.00,333.10 C633.14,333.10 633.90,334.66 633.90,337.00 C633.90,339.34 633.14,340.90 632.00,340.90 L632.00,340.90 C630.86,340.90 630.10,339.34 630.10,337.00 Z" fill="#333"/>
<path d="M425.80,370.50 C425.80,368.96 426.96,367.94 428.71,367.94 L443.69,369.16 C445.44,369.16 446.60,370.40 446.60,372.25 C446.60,373.81 445.44,374.85 443.69,374.85 L428.71,373.55 C426.96,373.55 425.80,372.33 425.80,370.50 Z" fill="#333"/>
<path d="M447.80,373.05 C447.80,371.52 448.92,370.50 450.60,370.50 L465.00,370.50 C466.68,370.50 467.80,371.52 467.80,373.05 C467.80,374.58 466.68,375.60 465.00,375.60 L450.60,375.60 C448.92,375.60 447.80,374.58 447.80,373.05 Z" fill="#333"/>
<path d="M468.30,372.70 C468.30,370.72 469.53,369.40 471.38,369.40 L487.22,369.40 C489.07,369.40 490.30,370.72 490.30,372.70 C490.30,374.68 489.07,376.00 487.22,376.00 L471.38,376.00 C469.53,376.00 468.30,374.68 468.30,372.70 Z" fill="#333"/>
<path d="M490.80,371.60 C490.80,369.98 491.96,368.90 493.70,368.90 L508.60,368.90 C510.34,368.90 511.50,369.98 511.50,371.60 C511.50,373.22 510.34,374.30 508.60,374.30 L493.70,374.30 C491.96,374.30 490.80,373.22 490.80,371.60 Z" fill="#333"/>
<path d="M512.00,370.60 C512.00,368.62 513.16,367.30 514.90,367.30 L529.80,367.30 C531.54,367.30 532.70,368.62 532.70,370.60 C532.70,372.58 531.54,373.90 529.80,373.90 L514.90,373.90 C513.16,373.90 512.00,372.58 512.00,370.60 Z" fill="#333"/>
<path d="M535.30,371.25 C535.30,369.42 536.34,368.20 537.90,368.20 L551.30,368.20 C552.86,368.20 553.90,369.42 553.90,371.25 C553.90,373.08 552.86,374.30 551.30,374.30 L537.90,374.30 C536.34,374.30 535.30,373.08 535.30,371.25 Z" fill="#333"/>
<path d="M554.40,372.00 C554.40,370.14 555.51,368.90 557.17,368.90 L571.43,368.90 C573.09,368.90 574.20,370.14 574.20,372.00 C574.20,373.86 573.09,375.10 571.43,375.10 L557.17,375.10 C555.51,375.10 554.40,373.86 554.40,372.00 Z" fill="#333"/>
<path d="M575.10,372.90 C575.10,371.04 576.24,369.80 577.96,369.80 L592.64,369.80 C594.36,369.80 595.50,371.04 595.50,372.90 C595.50,374.76 594.36,376.00 592.64,376.00 L577.96,376.00 C576.24,376.00 575.10,374.76 575.10,372.90 Z" fill="#333"/>
<path d="M596.00,372.75 C596.00,370.44 597.21,368.90 599.02,368.90 L614.58,368.90 C616.39,368.90 617.60,370.44 617.60,372.75 C617.60,375.06 616.39,376.60 614.58,376.60 L599.02,376.60 C597.21,376.60 596.00,375.06 596.00,372.75 Z" fill="#333"/>
<path d="M617.20,372.00 C617.20,369.96 618.33,368.59 620.03,368.59 L634.57,367.01 C636.27,367.01 637.40,368.08 637.40,369.70 C637.40,371.70 636.27,373.04 634.57,373.04 L620.03,374.76 C618.33,374.76 617.20,373.66 617.20,372.00 Z" fill="#333"/>
</g>
<g filter="url(#bl)">
<path d="M432.20,81.30 C432.20,79.91 433.50,78.98 435.46,78.98 L443.74,78.98 C445.70,78.98 447.00,79.91 447.00,81.30 C447.00,82.69 445.70,83.62 443.74,83.62 L435.46,83.62 C433.50,83.62 432.20,82.69 432.20,81.30 Z" fill="#5a5a5a"/>
<path d="M432.00,80.70 C432.00,78.95 432.77,77.78 433.92,77.78 L434.88,77.78 C436.03,77.78 436.80,78.95 436.80,80.70 C436.80,82.45 436.03,83.62 434.88,83.62 L433.92,83.62 C432.77,83.62 432.00,82.45 432.00,80.70 Z" fill="#333"/>
<path d="M430.20,88.75 C430.20,86.25 431.78,84.58 434.14,84.58 L444.16,84.58 C446.52,84.58 448.10,86.25 448.10,88.75 C448.10,91.25 446.52,92.92 444.16,92.92 L434.14,92.92 C431.78,92.92 430.20,91.25 430.20,88.75 Z" fill="#080808"/>
<path d="M449.70,81.55 C449.70,80.73 450.98,80.18 452.91,80.18 L461.09,80.18 C463.02,80.18 464.30,80.73 464.30,81.55 C464.30,82.37 463.02,82.92 461.09,82.92 L452.91,82.92 C450.98,82.92 449.70,82.37 449.70,81.55 Z" fill="#bcbcbc"/>
<path d="M513.30,78.60 C513.30,77.51 514.82,76.78 517.11,76.78 L526.79,76.78 C529.08,76.78 530.60,77.51 530.60,78.60 C530.60,79.69 529.08,80.42 526.79,80.42 L517.11,80.42 C514.82,80.42 513.30,79.69 513.30,78.60 Z" fill="#a2a2a2"/>
<path d="M513.10,86.30 C513.10,85.09 514.64,84.28 516.95,84.28 L526.75,84.28 C529.06,84.28 530.60,85.09 530.60,86.30 C530.60,87.51 529.06,88.32 526.75,88.32 L516.95,88.32 C514.64,88.32 513.10,87.51 513.10,86.30 Z" fill="#161616"/>
<path d="M534.30,78.90 C534.30,77.63 535.87,76.78 538.22,76.78 L548.18,76.78 C550.53,76.78 552.10,77.63 552.10,78.90 C552.10,80.17 550.53,81.02 548.18,81.02 L538.22,81.02 C535.87,81.02 534.30,80.17 534.30,78.90 Z" fill="#444"/>
<path d="M533.80,86.35 C533.80,84.51 535.51,83.28 538.07,83.28 L548.93,83.28 C551.49,83.28 553.20,84.51 553.20,86.35 C553.20,88.19 551.49,89.42 548.93,89.42 L538.07,89.42 C535.51,89.42 533.80,88.19 533.80,86.35 Z" fill="#080808"/>
<path d="M556.90,78.85 C556.90,78.09 558.24,77.58 560.24,77.58 L568.76,77.58 C570.76,77.58 572.10,78.09 572.10,78.85 C572.10,79.61 570.76,80.12 568.76,80.12 L560.24,80.12 C558.24,80.12 556.90,79.61 556.90,78.85 Z" fill="#c0c0c0"/>
<path d="M577.60,81.15 C577.60,80.21 578.98,79.58 581.05,79.58 L589.85,79.58 C591.92,79.58 593.30,80.21 593.30,81.15 C593.30,82.09 591.92,82.72 589.85,82.72 L581.05,82.72 C578.98,82.72 577.60,82.09 577.60,81.15 Z" fill="#adadad"/>
<path d="M577.10,88.70 C577.10,87.43 578.57,86.58 580.77,86.58 L590.13,86.58 C592.33,86.58 593.80,87.43 593.80,88.70 C593.80,89.97 592.33,90.82 590.13,90.82 L580.77,90.82 C578.57,90.82 577.10,89.97 577.10,88.70 Z" fill="#303030"/>
<path d="M598.10,82.00 C598.10,80.91 599.67,80.18 602.02,80.18 L611.98,80.18 C614.33,80.18 615.90,80.91 615.90,82.00 C615.90,83.09 614.33,83.82 611.98,83.82 L602.02,83.82 C599.67,83.82 598.10,83.09 598.10,82.00 Z" fill="#2c2c2c"/>
<path d="M597.00,89.00 C597.00,87.25 598.76,86.08 601.40,86.08 L612.60,86.08 C615.24,86.08 617.00,87.25 617.00,89.00 C617.00,90.75 615.24,91.92 612.60,91.92 L601.40,91.92 C598.76,91.92 597.00,90.75 597.00,89.00 Z" fill="#080808"/>
<path d="M620.20,82.00 C620.20,80.55 621.35,79.58 623.08,79.58 L630.42,79.58 C632.15,79.58 633.30,80.55 633.30,82.00 C633.30,83.45 632.15,84.42 630.42,84.42 L623.08,84.42 C621.35,84.42 620.20,83.45 620.20,82.00 Z" fill="#2c2c2c"/>
<path d="M631.20,81.60 C631.20,78.83 631.92,76.98 633.00,76.98 L633.00,76.98 C634.08,76.98 634.80,78.83 634.80,81.60 C634.80,84.37 634.08,86.22 633.00,86.22 L633.00,86.22 C631.92,86.22 631.20,84.37 631.20,81.60 Z" fill="#222"/>
<path d="M619.60,88.20 C619.60,86.27 621.03,84.98 623.16,84.98 L632.24,84.98 C634.37,84.98 635.80,86.27 635.80,88.20 C635.80,90.13 634.37,91.42 632.24,91.42 L623.16,91.42 C621.03,91.42 619.60,90.13 619.60,88.20 Z" fill="#080808"/>
<path d="M629.20,84.75 C629.20,81.47 630.18,79.28 631.64,79.28 L632.86,79.28 C634.32,79.28 635.30,81.47 635.30,84.75 C635.30,88.03 634.32,90.22 632.86,90.22 L631.64,90.22 C630.18,90.22 629.20,88.03 629.20,84.75 Z" fill="#111"/>
<path d="M425.50,120.95 C425.50,119.35 428.21,118.29 432.28,118.29 L441.32,119.37 C445.39,119.37 448.10,121.28 448.10,124.15 C448.10,125.87 445.39,127.01 441.32,127.01 L432.28,125.53 C428.21,125.53 425.50,123.70 425.50,120.95 Z" fill="#080808"/>
<path d="M445.70,123.60 C445.70,122.74 447.81,122.17 450.98,122.17 L458.02,122.29 C461.19,122.29 463.30,122.81 463.30,123.60 C463.30,124.39 461.19,124.91 458.02,124.91 L450.98,125.03 C447.81,125.03 445.70,124.46 445.70,123.60 Z" fill="#8e8e8e"/>
<path d="M469.10,122.70 C469.10,121.91 470.86,121.38 473.50,121.38 L484.70,121.38 C487.34,121.38 489.10,121.91 489.10,122.70 C489.10,123.49 487.34,124.02 484.70,124.02 L473.50,124.02 C470.86,124.02 469.10,123.49 469.10,122.70 Z" fill="#bababa"/>
<path d="M490.10,121.75 C490.10,120.81 491.57,120.18 493.77,120.18 L503.13,120.18 C505.33,120.18 506.80,120.81 506.80,121.75 C506.80,122.69 505.33,123.32 503.13,123.32 L493.77,123.32 C491.57,123.32 490.10,122.69 490.10,121.75 Z" fill="#b6b6b6"/>
<path d="M510.50,122.00 C510.50,120.25 512.22,119.08 514.79,119.08 L525.71,119.08 C528.28,119.08 530.00,120.25 530.00,122.00 C530.00,123.75 528.28,124.92 525.71,124.92 L514.79,124.92 C512.22,124.92 510.50,123.75 510.50,122.00 Z" fill="#080808"/>
<path d="M531.00,122.00 C531.00,119.59 532.97,117.98 535.93,117.98 L548.47,117.98 C551.43,117.98 553.40,119.59 553.40,122.00 C553.40,124.41 551.43,126.02 548.47,126.02 L535.93,126.02 C532.97,126.02 531.00,124.41 531.00,122.00 Z" fill="#080808"/>
<path d="M556.00,123.70 C556.00,122.91 557.39,122.38 559.48,122.38 L568.32,122.38 C570.41,122.38 571.80,122.91 571.80,123.70 C571.80,124.49 570.41,125.02 568.32,125.02 L559.48,125.02 C557.39,125.02 556.00,124.49 556.00,123.70 Z" fill="#bababa"/>
<path d="M575.60,124.15 C575.60,123.33 577.66,122.78 580.76,122.78 L587.64,122.78 C590.74,122.78 592.80,123.41 592.80,124.35 C592.80,125.22 590.74,125.80 587.64,125.80 L580.76,125.64 C577.66,125.64 575.60,125.04 575.60,124.15 Z" fill="#a6a6a6"/>
<path d="M583.70,124.40 C583.70,123.55 585.16,122.98 587.34,122.98 L589.16,122.98 C591.34,122.98 592.80,123.55 592.80,124.40 C592.80,125.25 591.34,125.82 589.16,125.82 L587.34,125.82 C585.16,125.82 583.70,125.25 583.70,124.40 Z" fill="#8a8a8a"/>
<path d="M595.80,124.95 C595.80,123.17 597.67,121.98 600.49,121.98 L612.41,121.98 C615.23,121.98 617.10,123.17 617.10,124.95 C617.10,126.73 615.23,127.92 612.41,127.92 L600.49,127.92 C597.67,127.92 595.80,126.73 595.80,124.95 Z" fill="#080808"/>
<path d="M618.50,124.75 C618.50,122.53 620.56,121.06 623.65,121.06 L633.95,120.00 C637.04,120.00 639.10,121.38 639.10,123.45 C639.10,125.91 637.04,127.55 633.95,127.55 L623.65,127.80 C620.56,127.80 618.50,126.58 618.50,124.75 Z" fill="#080808"/>
<path d="M637.70,114.25 C637.70,110.07 638.08,107.28 638.66,107.28 L639.94,107.28 C640.52,107.28 640.90,110.07 640.90,114.25 C640.90,118.43 640.52,121.22 639.94,121.22 L638.66,121.22 C638.08,121.22 637.70,118.43 637.70,114.25 Z" fill="#9c9c9c"/>
<path d="M425.10,160.55 C425.10,157.93 427.12,156.18 430.14,156.18 L442.96,156.18 C445.98,156.18 448.00,157.93 448.00,160.55 C448.00,163.17 445.98,164.92 442.96,164.92 L430.14,164.92 C427.12,164.92 425.10,163.17 425.10,160.55 Z" fill="#080808"/>
<path d="M466.60,160.90 C466.60,158.49 468.60,156.88 471.59,156.88 L484.31,156.88 C487.30,156.88 489.30,158.49 489.30,160.90 C489.30,163.31 487.30,164.92 484.31,164.92 L471.59,164.92 C468.60,164.92 466.60,163.31 466.60,160.90 Z" fill="#080808"/>
<path d="M488.10,159.00 C488.10,156.71 489.99,155.18 492.83,155.18 L504.87,155.18 C507.71,155.18 509.60,156.71 509.60,159.00 C509.60,161.29 507.71,162.82 504.87,162.82 L492.83,162.82 C489.99,162.82 488.10,161.29 488.10,159.00 Z" fill="#080808"/>
<path d="M509.50,158.55 C509.50,156.29 511.30,154.78 513.99,154.78 L525.41,154.78 C528.10,154.78 529.90,156.29 529.90,158.55 C529.90,160.81 528.10,162.32 525.41,162.32 L513.99,162.32 C511.30,162.32 509.50,160.81 509.50,158.55 Z" fill="#080808"/>
<path d="M530.70,158.55 C530.70,156.29 532.48,154.78 535.14,154.78 L546.46,154.78 C549.12,154.78 550.90,156.29 550.90,158.55 C550.90,160.81 549.12,162.32 546.46,162.32 L535.14,162.32 C532.48,162.32 530.70,160.81 530.70,158.55 Z" fill="#080808"/>
<path d="M553.70,159.10 C553.70,156.87 555.50,155.38 558.19,155.38 L569.61,155.38 C572.30,155.38 574.10,156.87 574.10,159.10 C574.10,161.33 572.30,162.82 569.61,162.82 L558.19,162.82 C555.50,162.82 553.70,161.33 553.70,159.10 Z" fill="#080808"/>
<path d="M574.50,159.90 C574.50,157.91 576.29,156.58 578.97,156.58 L590.33,156.58 C593.01,156.58 594.80,157.91 594.80,159.90 C594.80,161.89 593.01,163.22 590.33,163.22 L578.97,163.22 C576.29,163.22 574.50,161.89 574.50,159.90 Z" fill="#080808"/>
<path d="M594.70,160.35 C594.70,158.09 596.73,156.58 599.78,156.58 L612.72,156.58 C615.77,156.58 617.80,158.09 617.80,160.35 C617.80,162.61 615.77,164.12 612.72,164.12 L599.78,164.12 C596.73,164.12 594.70,162.61 594.70,160.35 Z" fill="#080808"/>
<path d="M617.70,157.45 C617.70,154.83 619.55,153.08 622.32,153.08 L634.08,153.08 C636.85,153.08 638.70,154.83 638.70,157.45 C638.70,160.07 636.85,161.82 634.08,161.82 L622.32,161.82 C619.55,161.82 617.70,160.07 617.70,157.45 Z" fill="#080808"/>
<path d="M446.90,161.60 C446.90,159.61 448.43,158.28 450.71,158.28 L453.99,158.28 C456.27,158.28 457.80,159.61 457.80,161.60 C457.80,163.59 456.27,164.92 453.99,164.92 L450.71,164.92 C448.43,164.92 446.90,163.59 446.90,161.60 Z" fill="#080808"/>
<path d="M452.70,161.60 C452.70,160.45 453.97,159.68 455.88,159.68 L460.12,159.68 C462.03,159.68 463.30,160.45 463.30,161.60 C463.30,162.75 462.03,163.52 460.12,163.52 L455.88,163.52 C453.97,163.52 452.70,162.75 452.70,161.60 Z" fill="#151515"/>
<path d="M458.70,161.25 C458.70,159.53 459.96,158.38 461.85,158.38 L464.55,158.38 C466.44,158.38 467.70,159.53 467.70,161.25 C467.70,162.97 466.44,164.12 464.55,164.12 L461.85,164.12 C459.96,164.12 458.70,162.97 458.70,161.25 Z" fill="#080808"/>
<path d="M430.30,189.10 C430.30,188.24 432.39,187.66 435.52,187.66 L442.48,187.50 C445.61,187.50 447.70,188.66 447.70,190.40 C447.70,191.67 445.61,192.52 442.48,192.52 L435.52,191.32 C432.39,191.32 430.30,190.43 430.30,189.10 Z" fill="#080808"/>
<path d="M449.70,193.45 C449.70,192.63 451.33,192.08 453.78,192.08 L459.22,192.08 C461.67,192.08 463.30,192.63 463.30,193.45 C463.30,194.27 461.67,194.82 459.22,194.82 L453.78,194.82 C451.33,194.82 449.70,194.27 449.70,193.45 Z" fill="#262626"/>
<path d="M460.70,193.40 C460.70,192.19 461.88,191.38 463.66,191.38 L465.14,191.38 C466.92,191.38 468.10,192.19 468.10,193.40 C468.10,194.61 466.92,195.42 465.14,195.42 L463.66,195.42 C461.88,195.42 460.70,194.61 460.70,193.40 Z" fill="#080808"/>
<path d="M511.70,192.40 C511.70,191.44 513.73,190.80 516.77,190.80 L523.53,190.56 C526.57,190.56 528.60,191.32 528.60,192.45 C528.60,193.57 526.57,194.31 523.53,194.31 L516.77,194.03 C513.73,194.03 511.70,193.38 511.70,192.40 Z" fill="#4a4a4a"/>
<path d="M522.20,192.50 C522.20,191.35 523.22,190.58 524.76,190.58 L526.04,190.58 C527.58,190.58 528.60,191.35 528.60,192.50 C528.60,193.65 527.58,194.42 526.04,194.42 L524.76,194.42 C523.22,194.42 522.20,193.65 522.20,192.50 Z" fill="#1e1e1e"/>
<path d="M532.40,192.10 C532.40,191.07 533.77,190.38 535.82,190.38 L536.58,190.38 C538.63,190.38 540.00,191.07 540.00,192.10 C540.00,193.13 538.63,193.82 536.58,193.82 L535.82,193.82 C533.77,193.82 532.40,193.13 532.40,192.10 Z" fill="#1a1a1a"/>
<path d="M537.70,192.20 C537.70,191.47 538.97,190.98 540.88,190.98 L545.12,190.98 C547.03,190.98 548.30,191.47 548.30,192.20 C548.30,192.93 547.03,193.42 545.12,193.42 L540.88,193.42 C538.97,193.42 537.70,192.93 537.70,192.20 Z" fill="#a0a0a0"/>
<path d="M573.00,193.30 C573.00,192.40 575.10,191.80 578.25,191.80 L585.25,192.36 C588.40,192.36 590.50,192.98 590.50,193.90 C590.50,194.61 588.40,195.08 585.25,195.08 L578.25,195.16 C575.10,195.16 573.00,194.42 573.00,193.30 Z" fill="#141414"/>
<path d="M594.80,193.95 C594.80,192.11 597.04,190.88 600.41,190.88 L607.89,190.88 C611.26,190.88 613.50,192.11 613.50,193.95 C613.50,195.79 611.26,197.02 607.89,197.02 L600.41,197.02 C597.04,197.02 594.80,195.79 594.80,193.95 Z" fill="#080808"/>
<path d="M616.00,191.95 C616.00,189.97 617.87,188.66 620.67,188.66 L630.02,187.81 C632.83,187.81 634.70,188.08 634.70,188.50 C634.70,189.95 632.83,190.92 630.02,190.92 L620.67,193.52 C617.87,193.52 616.00,192.89 616.00,191.95 Z" fill="#080808"/>
<path d="M429.40,222.60 C429.40,221.59 430.65,220.92 432.53,220.92 L443.67,221.44 C445.55,221.44 446.80,222.22 446.80,223.40 C446.80,224.41 445.55,225.08 443.67,225.08 L432.53,224.56 C430.65,224.56 429.40,223.78 429.40,222.60 Z" fill="#080808"/>
<path d="M448.90,225.15 C448.90,223.31 450.30,222.08 452.41,222.08 L464.89,222.08 C467.00,222.08 468.40,223.31 468.40,225.15 C468.40,226.99 467.00,228.22 464.89,228.22 L452.41,228.22 C450.30,228.22 448.90,226.99 448.90,225.15 Z" fill="#080808"/>
<path d="M495.70,225.40 C495.70,224.64 497.48,224.14 500.14,224.14 L506.06,223.82 C508.72,223.82 510.50,224.17 510.50,224.70 C510.50,225.48 508.72,226.00 506.06,226.00 L500.14,226.24 C497.48,226.24 495.70,225.90 495.70,225.40 Z" fill="#a8a8a8"/>
<path d="M514.90,223.75 C514.90,222.15 516.22,221.08 518.19,221.08 L529.91,221.08 C531.88,221.08 533.20,222.15 533.20,223.75 C533.20,225.35 531.88,226.42 529.91,226.42 L518.19,226.42 C516.22,226.42 514.90,225.35 514.90,223.75 Z" fill="#080808"/>
<path d="M537.70,223.55 C537.70,222.67 539.57,222.08 542.38,222.08 L548.62,222.08 C551.43,222.08 553.30,222.67 553.30,223.55 C553.30,224.43 551.43,225.02 548.62,225.02 L542.38,225.02 C539.57,225.02 537.70,224.43 537.70,223.55 Z" fill="#555"/>
<path d="M557.70,224.90 C557.70,224.23 558.98,223.78 560.91,223.78 L569.09,223.78 C571.02,223.78 572.30,224.23 572.30,224.90 C572.30,225.57 571.02,226.02 569.09,226.02 L560.91,226.02 C558.98,226.02 557.70,225.57 557.70,224.90 Z" fill="#c0c0c0"/>
<path d="M578.40,225.60 C578.40,224.27 579.65,223.38 581.53,223.38 L592.67,223.38 C594.55,223.38 595.80,224.27 595.80,225.60 C595.80,226.93 594.55,227.82 592.67,227.82 L581.53,227.82 C579.65,227.82 578.40,226.93 578.40,225.60 Z" fill="#080808"/>
<path d="M598.70,226.05 C598.70,224.45 600.02,223.38 601.99,223.38 L613.71,223.38 C615.68,223.38 617.00,224.45 617.00,226.05 C617.00,227.65 615.68,228.72 613.71,228.72 L601.99,228.72 C600.02,228.72 598.70,227.65 598.70,226.05 Z" fill="#080808"/>
<path d="M620.30,224.60 C620.30,223.27 622.24,222.38 625.16,222.38 L631.64,221.58 C634.56,221.58 636.50,221.95 636.50,222.50 C636.50,223.81 634.56,224.68 631.64,224.68 L625.16,225.56 C622.24,225.56 620.30,225.18 620.30,224.60 Z" fill="#1a1a1a"/>
<path d="M630.90,231.35 C630.90,229.90 631.45,228.94 632.29,228.94 L637.21,227.72 C638.05,227.72 638.60,228.71 638.60,230.20 C638.60,231.94 638.05,233.09 637.21,233.09 L632.29,233.35 C631.45,233.35 630.90,232.55 630.90,231.35 Z" fill="#080808"/>
<path d="M429.40,257.00 C429.40,255.61 430.36,254.68 431.79,254.68 L444.11,254.68 C445.54,254.68 446.50,255.61 446.50,257.00 C446.50,258.39 445.54,259.32 444.11,259.32 L431.79,259.32 C430.36,259.32 429.40,258.39 429.40,257.00 Z" fill="#080808"/>
<path d="M448.90,258.55 C448.90,257.25 449.95,256.38 451.53,256.38 L465.07,256.38 C466.65,256.38 467.70,257.25 467.70,258.55 C467.70,259.85 466.65,260.72 465.07,260.72 L451.53,260.72 C449.95,260.72 448.90,259.85 448.90,258.55 Z" fill="#080808"/>
<path d="M470.10,258.75 C470.10,257.03 471.18,255.88 472.79,255.88 L486.61,255.88 C488.22,255.88 489.30,257.03 489.30,258.75 C489.30,260.47 488.22,261.62 486.61,261.62 L472.79,261.62 C471.18,261.62 470.10,260.47 470.10,258.75 Z" fill="#080808"/>
<path d="M492.60,257.30 C492.60,255.73 493.62,254.68 495.16,254.68 L508.34,254.68 C509.88,254.68 510.90,255.73 510.90,257.30 C510.90,258.87 509.88,259.92 508.34,259.92 L495.16,259.92 C493.62,259.92 492.60,258.87 492.60,257.30 Z" fill="#080808"/>
<path d="M513.50,256.40 C513.50,254.83 514.57,253.78 516.17,253.78 L529.93,253.78 C531.53,253.78 532.60,254.83 532.60,256.40 C532.60,257.97 531.53,259.02 529.93,259.02 L516.17,259.02 C514.57,259.02 513.50,257.97 513.50,256.40 Z" fill="#080808"/>
<path d="M535.90,256.55 C535.90,255.07 536.87,254.08 538.34,254.08 L550.86,254.08 C552.33,254.08 553.30,255.07 553.30,256.55 C553.30,258.03 552.33,259.02 550.86,259.02 L538.34,259.02 C536.87,259.02 535.90,258.03 535.90,256.55 Z" fill="#080808"/>
<path d="M556.20,257.25 C556.20,255.89 557.17,254.98 558.64,254.98 L571.16,254.98 C572.63,254.98 573.60,255.89 573.60,257.25 C573.60,258.61 572.63,259.52 571.16,259.52 L558.64,259.52 C557.17,259.52 556.20,258.61 556.20,257.25 Z" fill="#080808"/>
<path d="M577.10,257.65 C577.10,256.29 578.12,255.38 579.66,255.38 L592.84,255.38 C594.38,255.38 595.40,256.29 595.40,257.65 C595.40,259.01 594.38,259.92 592.84,259.92 L579.66,259.92 C578.12,259.92 577.10,259.01 577.10,257.65 Z" fill="#080808"/>
<path d="M598.30,257.90 C598.30,256.69 599.30,255.88 600.79,255.88 L613.61,255.88 C615.10,255.88 616.10,256.69 616.10,257.90 C616.10,259.11 615.10,259.92 613.61,259.92 L600.79,259.92 C599.30,259.92 598.30,259.11 598.30,257.90 Z" fill="#080808"/>
<path d="M619.00,257.75 C619.00,256.13 619.98,255.06 621.45,255.06 L634.05,253.40 C635.52,253.40 636.50,254.10 636.50,255.15 C636.50,256.64 635.52,257.63 634.05,257.63 L621.45,259.71 C619.98,259.71 619.00,258.93 619.00,257.75 Z" fill="#080808"/>
<path d="M434.70,239.60 C434.70,238.99 435.10,238.58 435.70,238.58 L435.70,238.58 C436.30,238.58 436.70,238.99 436.70,239.60 C436.70,240.21 436.30,240.62 435.70,240.62 L435.70,240.62 C435.10,240.62 434.70,240.21 434.70,239.60 Z" fill="#555"/>
<path d="M427.70,295.70 C427.70,294.08 429.35,293.00 431.82,293.00 L444.18,294.26 C446.65,294.26 448.30,295.32 448.30,296.90 C448.30,298.20 446.65,299.06 444.18,299.06 L431.82,298.88 C429.35,298.88 427.70,297.61 427.70,295.70 Z" fill="#080808"/>
<path d="M451.50,297.60 C451.50,296.92 453.49,296.47 456.48,296.47 L463.12,296.59 C466.11,296.59 468.10,297.03 468.10,297.70 C468.10,298.33 466.11,298.75 463.12,298.75 L456.48,298.79 C453.49,298.79 451.50,298.31 451.50,297.60 Z" fill="#a8a8a8"/>
<path d="M514.40,297.20 C514.40,296.11 515.71,295.38 517.68,295.38 L529.32,295.38 C531.29,295.38 532.60,296.11 532.60,297.20 C532.60,298.29 531.29,299.02 529.32,299.02 L517.68,299.02 C515.71,299.02 514.40,298.29 514.40,297.20 Z" fill="#080808"/>
<path d="M536.40,297.65 C536.40,296.29 537.75,295.38 539.77,295.38 L551.73,295.38 C553.75,295.38 555.10,296.29 555.10,297.65 C555.10,299.01 553.75,299.92 551.73,299.92 L539.77,299.92 C537.75,299.92 536.40,299.01 536.40,297.65 Z" fill="#080808"/>
<path d="M577.70,300.00 C577.70,299.27 579.07,298.78 581.13,298.78 L589.87,298.78 C591.93,298.78 593.30,299.27 593.30,300.00 C593.30,300.73 591.93,301.22 589.87,301.22 L581.13,301.22 C579.07,301.22 577.70,300.73 577.70,300.00 Z" fill="#bcbcbc"/>
<path d="M599.60,299.40 C599.60,298.37 600.85,297.68 602.73,297.68 L613.87,297.68 C615.75,297.68 617.00,298.37 617.00,299.40 C617.00,300.43 615.75,301.12 613.87,301.12 L602.73,301.12 C600.85,301.12 599.60,300.43 599.60,299.40 Z" fill="#080808"/>
<path d="M619.90,298.60 C619.90,297.07 621.28,296.06 623.36,296.06 L635.64,294.90 C637.72,294.90 639.10,295.58 639.10,296.60 C639.10,298.05 637.72,299.02 635.64,299.02 L623.36,300.42 C621.28,300.42 619.90,299.69 619.90,298.60 Z" fill="#080808"/>
<path d="M426.70,328.30 C426.70,327.73 427.84,327.36 429.54,327.36 L444.16,329.30 C445.86,329.30 447.00,330.36 447.00,331.95 C447.00,332.93 445.86,333.58 444.16,333.58 L429.54,330.26 C427.84,330.26 426.70,329.48 426.70,328.30 Z" fill="#080808"/>
<path d="M448.90,333.00 C448.90,331.61 449.99,330.68 451.63,330.68 L465.67,330.68 C467.31,330.68 468.40,331.61 468.40,333.00 C468.40,334.39 467.31,335.32 465.67,335.32 L451.63,335.32 C449.99,335.32 448.90,334.39 448.90,333.00 Z" fill="#080808"/>
<path d="M469.20,333.25 C469.20,331.35 470.43,330.08 472.27,330.08 L488.03,330.08 C489.87,330.08 491.10,331.35 491.10,333.25 C491.10,335.15 489.87,336.42 488.03,336.42 L472.27,336.42 C470.43,336.42 469.20,335.15 469.20,333.25 Z" fill="#080808"/>
<path d="M493.10,332.85 C493.10,331.55 494.18,330.68 495.79,330.68 L509.61,330.68 C511.22,330.68 512.30,331.55 512.30,332.85 C512.30,334.15 511.22,335.02 509.61,335.02 L495.79,335.02 C494.18,335.02 493.10,334.15 493.10,332.85 Z" fill="#080808"/>
<path d="M513.50,333.60 C513.50,331.49 514.62,330.08 516.30,330.08 L530.70,330.08 C532.38,330.08 533.50,331.49 533.50,333.60 C533.50,335.71 532.38,337.12 530.70,337.12 L516.30,337.12 C514.62,337.12 513.50,335.71 513.50,333.60 Z" fill="#080808"/>
<path d="M534.10,333.70 C534.10,331.89 535.18,330.68 536.79,330.68 L550.61,330.68 C552.22,330.68 553.30,331.89 553.30,333.70 C553.30,335.51 552.22,336.72 550.61,336.72 L536.79,336.72 C535.18,336.72 534.10,335.51 534.10,333.70 Z" fill="#080808"/>
<path d="M554.80,334.50 C554.80,332.63 555.90,331.38 557.56,331.38 L571.74,331.38 C573.40,331.38 574.50,332.63 574.50,334.50 C574.50,336.37 573.40,337.62 571.74,337.62 L557.56,337.62 C555.90,337.62 554.80,336.37 554.80,334.50 Z" fill="#080808"/>
<path d="M576.10,335.05 C576.10,333.15 577.15,331.88 578.73,331.88 L592.27,331.88 C593.85,331.88 594.90,333.15 594.90,335.05 C594.90,336.95 593.85,338.22 592.27,338.22 L578.73,338.22 C577.15,338.22 576.10,336.95 576.10,335.05 Z" fill="#080808"/>
<path d="M596.00,335.05 C596.00,333.15 597.18,331.88 598.94,331.88 L614.06,331.88 C615.82,331.88 617.00,333.15 617.00,335.05 C617.00,336.95 615.82,338.22 614.06,338.22 L598.94,338.22 C597.18,338.22 596.00,336.95 596.00,335.05 Z" fill="#080808"/>
<path d="M617.80,333.25 C617.80,331.28 619.04,329.96 620.91,329.96 L636.89,327.80 C638.76,327.80 640.00,328.52 640.00,329.60 C640.00,331.29 638.76,332.42 636.89,332.42 L620.91,335.52 C619.04,335.52 617.80,334.61 617.80,333.25 Z" fill="#080808"/>
<path d="M630.70,337.00 C630.70,335.07 631.22,333.78 632.00,333.78 L632.00,333.78 C632.78,333.78 633.30,335.07 633.30,337.00 C633.30,338.93 632.78,340.22 632.00,340.22 L632.00,340.22 C631.22,340.22 630.70,338.93 630.70,337.00 Z" fill="#333"/>
<path d="M426.40,370.50 C426.40,369.37 427.50,368.62 429.14,368.62 L443.26,369.84 C444.90,369.84 446.00,370.81 446.00,372.25 C446.00,373.40 444.90,374.17 443.26,374.17 L429.14,372.87 C427.50,372.87 426.40,371.92 426.40,370.50 Z" fill="#080808"/>
<path d="M448.40,373.05 C448.40,371.93 449.45,371.18 451.03,371.18 L464.57,371.18 C466.15,371.18 467.20,371.93 467.20,373.05 C467.20,374.17 466.15,374.92 464.57,374.92 L451.03,374.92 C449.45,374.92 448.40,374.17 448.40,373.05 Z" fill="#080808"/>
<path d="M468.90,372.70 C468.90,371.13 470.06,370.08 471.81,370.08 L486.79,370.08 C488.54,370.08 489.70,371.13 489.70,372.70 C489.70,374.27 488.54,375.32 486.79,375.32 L471.81,375.32 C470.06,375.32 468.90,374.27 468.90,372.70 Z" fill="#080808"/>
<path d="M491.40,371.60 C491.40,370.39 492.49,369.58 494.13,369.58 L508.17,369.58 C509.81,369.58 510.90,370.39 510.90,371.60 C510.90,372.81 509.81,373.62 508.17,373.62 L494.13,373.62 C492.49,373.62 491.40,372.81 491.40,371.60 Z" fill="#080808"/>
<path d="M512.60,370.60 C512.60,369.03 513.69,367.98 515.33,367.98 L529.37,367.98 C531.01,367.98 532.10,369.03 532.10,370.60 C532.10,372.17 531.01,373.22 529.37,373.22 L515.33,373.22 C513.69,373.22 512.60,372.17 512.60,370.60 Z" fill="#080808"/>
<path d="M535.90,371.25 C535.90,369.83 536.87,368.88 538.34,368.88 L550.86,368.88 C552.33,368.88 553.30,369.83 553.30,371.25 C553.30,372.67 552.33,373.62 550.86,373.62 L538.34,373.62 C536.87,373.62 535.90,372.67 535.90,371.25 Z" fill="#080808"/>
<path d="M555.00,372.00 C555.00,370.55 556.04,369.58 557.60,369.58 L571.00,369.58 C572.56,369.58 573.60,370.55 573.60,372.00 C573.60,373.45 572.56,374.42 571.00,374.42 L557.60,374.42 C556.04,374.42 555.00,373.45 555.00,372.00 Z" fill="#080808"/>
<path d="M575.70,372.90 C575.70,371.45 576.78,370.48 578.39,370.48 L592.21,370.48 C593.82,370.48 594.90,371.45 594.90,372.90 C594.90,374.35 593.82,375.32 592.21,375.32 L578.39,375.32 C576.78,375.32 575.70,374.35 575.70,372.90 Z" fill="#080808"/>
<path d="M596.60,372.75 C596.60,370.85 597.74,369.58 599.46,369.58 L614.14,369.58 C615.86,369.58 617.00,370.85 617.00,372.75 C617.00,374.65 615.86,375.92 614.14,375.92 L599.46,375.92 C597.74,375.92 596.60,374.65 596.60,372.75 Z" fill="#080808"/>
<path d="M617.80,372.00 C617.80,370.36 618.86,369.27 620.46,369.27 L634.14,367.69 C635.74,367.69 636.80,368.49 636.80,369.70 C636.80,371.29 635.74,372.36 634.14,372.36 L620.46,374.08 C618.86,374.08 617.80,373.25 617.80,372.00 Z" fill="#080808"/>
</g>
</svg>
</body></html>
